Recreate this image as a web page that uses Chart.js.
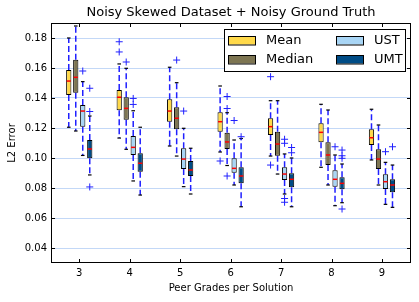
<!DOCTYPE html>
<html>
<head>
<meta charset="utf-8">
<script src="https://cdn.jsdelivr.net/npm/chart.js@4/dist/chart.umd.min.js"></script>
<style>
  html, body { margin: 0; padding: 0; background: #fff; }
</style>
</head>
<body>
<canvas id="myChart" width="419" height="302"></canvas>
<script>
// x categories and y ticks
const peerGrades = [3, 4, 5, 6, 7, 8, 9];
const yTicks = [0.04, 0.06, 0.08, 0.10, 0.12, 0.14, 0.16, 0.18];
const seriesNames = ['Mean', 'Median', 'UST', 'UMT'];

// each box: [lower whisker, q1, median, q3, upper whisker]
const meanBoxes = [
  [0.1205, 0.1420, 0.1513, 0.1587, 0.1800],
  [0.1133, 0.1318, 0.1405, 0.1453, 0.1627],
  [0.1080, 0.1242, 0.1313, 0.1391, 0.1605],
  [0.1040, 0.1175, 0.1242, 0.1305, 0.1480],
  [0.1013, 0.1153, 0.1209, 0.1265, 0.1382],
  [0.0938, 0.1105, 0.1171, 0.1231, 0.1358],
  [0.0987, 0.1087, 0.1135, 0.1191, 0.1325]
];
const medianBoxes = [
  [0.1180, 0.1435, 0.1538, 0.1655, 0.1880],
  [0.1058, 0.1255, 0.1331, 0.1405, 0.1598],
  [0.1013, 0.1191, 0.1265, 0.1338, 0.1502],
  [0.0950, 0.1060, 0.1107, 0.1169, 0.1302],
  [0.0893, 0.1015, 0.1093, 0.1175, 0.1382],
  [0.0820, 0.0953, 0.1020, 0.1105, 0.1320],
  [0.0820, 0.0927, 0.0993, 0.1058, 0.1220]
];
const ustBoxes = [
  [0.1017, 0.1209, 0.1313, 0.1353, 0.1509],
  [0.0847, 0.1020, 0.1071, 0.1147, 0.1315],
  [0.0809, 0.0927, 0.0993, 0.1065, 0.1198],
  [0.0820, 0.0902, 0.0931, 0.0998, 0.1120],
  [0.0760, 0.0853, 0.0893, 0.0938, 0.1027],
  [0.0682, 0.0809, 0.0858, 0.0918, 0.1020],
  [0.0691, 0.0793, 0.0842, 0.0891, 0.0971]
];
const umtBoxes = [
  [0.0887, 0.0998, 0.1060, 0.1120, 0.1280],
  [0.0753, 0.0909, 0.0965, 0.1031, 0.1205],
  [0.0760, 0.0880, 0.0920, 0.0980, 0.1065],
  [0.0675, 0.0831, 0.0880, 0.0938, 0.1130],
  [0.0675, 0.0805, 0.0858, 0.0898, 0.1000],
  [0.0702, 0.0791, 0.0831, 0.0871, 0.0960],
  [0.0671, 0.0771, 0.0820, 0.0858, 0.0953]
];

// outliers per peer grade
const meanOutliers = [[], [0.1775, 0.1707], [], [0.0980], [0.1542, 0.0953], [], []];
const medianOutliers = [[], [0.1640], [0.1653], [0.1410, 0.1330, 0.0880], [], [], []];
const ustOutliers = [[0.1580], [0.1397, 0.1357], [0.1313], [0.1250], [0.1125, 0.1098, 0.0730, 0.0705], [0.1075], [0.1042]];
const umtOutliers = [[0.1310, 0.1465, 0.0807], [], [], [0.1142], [0.1070, 0.1035], [0.1053, 0.1015, 0.0998, 0.0660], [0.1075]];

const fillColors = ['#ffd94a', '#7d7552', '#a8d5f5', '#004c86'];

const allBoxes = [meanBoxes, medianBoxes, ustBoxes, umtBoxes];
const allOutliers = [meanOutliers, medianOutliers, ustOutliers, umtOutliers];

const FONT = 'DejaVu Sans';

const datasets = seriesNames.map((name, d) => ({
  label: name,
  data: peerGrades.map((g, i) => ({ x: g, y: [allBoxes[d][i][1], allBoxes[d][i][3]] })),
  backgroundColor: fillColors[d],
  borderColor: '#000',
  borderWidth: 1,
  borderSkipped: false,
  categoryPercentage: 0.555,
  barPercentage: 0.75
}));

// whiskers, caps, medians, outliers
const boxExtras = {
  id: 'boxExtras',
  beforeDatasetsDraw(chart) {
    const ctx = chart.ctx, y = chart.scales.y;
    ctx.save();
    ctx.strokeStyle = '#2020ff';
    ctx.lineWidth = 1.5;
    ctx.setLineDash([6, 3]);
    allBoxes.forEach((boxes, d) => {
      chart.getDatasetMeta(d).data.forEach((bar, i) => {
        const b = boxes[i];
        ctx.beginPath();
        ctx.moveTo(bar.x, y.getPixelForValue(b[3]));
        ctx.lineTo(bar.x, y.getPixelForValue(b[4]));
        ctx.moveTo(bar.x, y.getPixelForValue(b[1]));
        ctx.lineTo(bar.x, y.getPixelForValue(b[0]));
        ctx.stroke();
      });
    });
    ctx.restore();
  },
  afterDatasetsDraw(chart) {
    const ctx = chart.ctx, y = chart.scales.y;
    ctx.save();
    allBoxes.forEach((boxes, d) => {
      chart.getDatasetMeta(d).data.forEach((bar, i) => {
        const b = boxes[i];
        const half = bar.width / 2;
        // median
        ctx.strokeStyle = '#ff0000';
        ctx.lineWidth = 1.5;
        ctx.beginPath();
        ctx.moveTo(bar.x - half + 0.5, y.getPixelForValue(b[2]));
        ctx.lineTo(bar.x + half - 0.5, y.getPixelForValue(b[2]));
        ctx.stroke();
        // caps
        ctx.strokeStyle = '#000';
        ctx.lineWidth = 1.2;
        [b[0], b[4]].forEach(v => {
          const py = y.getPixelForValue(v);
          ctx.beginPath();
          ctx.moveTo(bar.x - 1.8, py);
          ctx.lineTo(bar.x + 1.8, py);
          ctx.stroke();
        });
        // outliers
        ctx.strokeStyle = '#2020ff';
        ctx.lineWidth = 1;
        allOutliers[d][i].forEach(v => {
          const py = y.getPixelForValue(v);
          ctx.beginPath();
          ctx.moveTo(bar.x - 3.5, py);
          ctx.lineTo(bar.x + 3.5, py);
          ctx.moveTo(bar.x, py - 3.5);
          ctx.lineTo(bar.x, py + 3.5);
          ctx.stroke();
        });
      });
    });
    ctx.restore();
  },
  afterDraw(chart) {
    const ctx = chart.ctx, a = chart.chartArea;
    const xs = chart.scales.x, ys = chart.scales.y;
    ctx.save();
    // frame
    ctx.strokeStyle = '#000';
    ctx.lineWidth = 1;
    ctx.strokeRect(a.left + 0.5, a.top + 0.5, a.right - a.left - 1, a.bottom - a.top - 1);
    // inward ticks
    ctx.beginPath();
    peerGrades.forEach(g => {
      const px = Math.round(xs.getPixelForValue(g)) + 0.5;
      ctx.moveTo(px, a.bottom); ctx.lineTo(px, a.bottom - 4);
      ctx.moveTo(px, a.top); ctx.lineTo(px, a.top + 4);
    });
    yTicks.forEach(v => {
      const py = Math.round(ys.getPixelForValue(v)) + 0.5;
      ctx.moveTo(a.left, py); ctx.lineTo(a.left + 4, py);
      ctx.moveTo(a.right, py); ctx.lineTo(a.right - 4, py);
    });
    ctx.stroke();

    // legend, two columns inside the plot
    const bx = a.right - 187, by = a.top + 6, bw = 181, bh = 42;
    ctx.fillStyle = '#fff';
    ctx.fillRect(bx, by, bw, bh);
    ctx.strokeRect(bx + 0.5, by + 0.5, bw, bh);
    ctx.font = '13px "' + FONT + '"';
    ctx.textBaseline = 'middle';
    chart.data.datasets.forEach((ds, d) => {
      const col = Math.floor(d / 2), row = d % 2;
      const sx = bx + 4 + col * 108, sy = by + 7 + row * 19;
      ctx.fillStyle = ds.backgroundColor;
      ctx.fillRect(sx, sy, 27, 8.5);
      ctx.strokeRect(sx + 0.5, sy + 0.5, 27, 8.5);
      ctx.fillStyle = '#000';
      ctx.fillText(ds.label, sx + 38, sy + 5);
    });
    ctx.restore();
  }
};

new Chart(document.getElementById('myChart'), {
  type: 'bar',
  data: { datasets: datasets },
  options: {
    responsive: false,
    animation: false,
    devicePixelRatio: 1,
    layout: { padding: { left: 0, right: 8, top: 0, bottom: 0 } },
    plugins: {
      legend: { display: false },
      tooltip: { enabled: false },
      title: {
        display: true,
        fullSize: false,
        align: 'center',
        text: 'Noisy Skewed Dataset + Noisy Ground Truth',
        color: '#000',
        font: { family: FONT, size: 13, weight: 'normal' },
        padding: { top: 5, bottom: 2.4 }
      }
    },
    scales: {
      x: {
        type: 'linear',
        offset: false,
        min: 2.44,
        max: 9.575,
        afterFit(scale) { scale.height = 39; },
        afterBuildTicks(scale) { scale.ticks = peerGrades.map(g => ({ value: g })); },
        grid: { display: false, drawTicks: false },
        border: { display: false },
        ticks: {
          color: '#000',
          font: { family: FONT, size: 10 },
          padding: 4,
          maxRotation: 0,
          callback: v => String(v)
        },
        title: {
          display: true,
          text: 'Peer Grades per Solution',
          color: '#000',
          font: { family: FONT, size: 10 },
          padding: { top: 0, bottom: 8 }
        }
      },
      y: {
        min: 0.03,
        max: 0.19,
        afterFit(scale) { scale.width = 51; },
        afterBuildTicks(scale) { scale.ticks = yTicks.map(v => ({ value: v })); },
        grid: { color: '#c3d8f7', lineWidth: 1, drawTicks: false },
        border: { display: false },
        ticks: {
          color: '#000',
          font: { family: FONT, size: 10 },
          padding: 4,
          callback: v => v.toFixed(2)
        },
        title: {
          display: true,
          text: 'L2 Error',
          color: '#000',
          font: { family: FONT, size: 10 },
          padding: { top: 6, bottom: 0 }
        }
      }
    }
  },
  plugins: [boxExtras]
});
</script>
</body>
</html>
